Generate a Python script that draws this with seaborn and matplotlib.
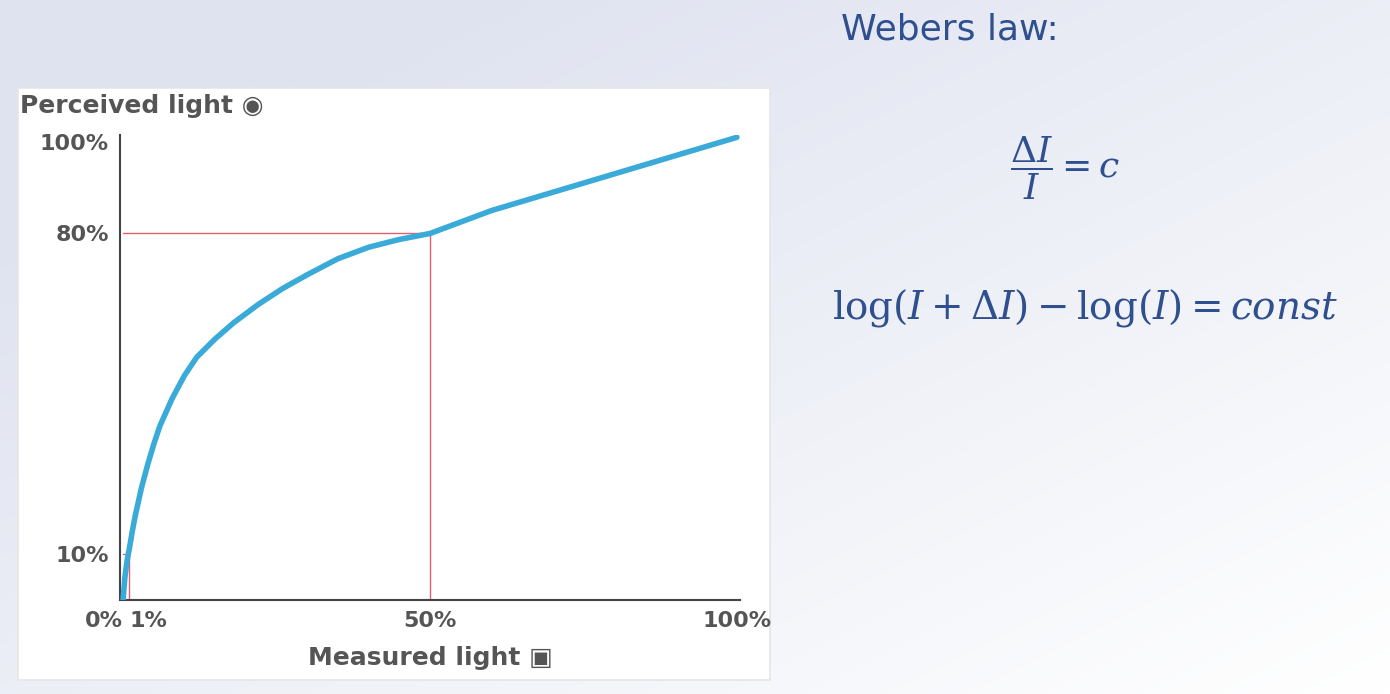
import numpy as np
import pandas as pd
import matplotlib
matplotlib.use("Agg")
import matplotlib.pyplot as plt
import seaborn as sns

measured = [0, 0.3, 0.7, 1, 1.5, 2, 3, 4, 5, 6, 8, 10, 12, 15, 18, 22, 26, 30, 35, 40, 45, 50,
            55, 60, 65, 70, 75, 80, 85, 90, 95, 100]
perceived = [0, 5, 9, 11, 15, 18.5, 24.5, 29.5, 34, 38, 44, 49, 53, 57, 60.5, 64.5, 68, 71, 74.5, 77, 78.7, 80,
             82.5, 85, 87, 89, 91, 93, 95, 97, 99, 101]
xticks = [0, 1, 50, 100]
xtick_labels = ["0%", "1%", "50%", "100%"]
yticks = [10, 80, 100]
ytick_labels = ["10%", "80%", "100%"]

sns.set_theme(style="white")
plt.rcParams["mathtext.fontset"] = "dejavuserif"
fig = plt.figure(figsize=(13.9, 6.94), dpi=100)
bg = fig.add_axes([0, 0, 1, 1], zorder=-10)
yy, xx = np.mgrid[0:1:256j, 0:1:256j]
grad = np.clip((1 - xx) * 0.6 + yy * 0.6, 0, 1)
bg.imshow(grad, cmap=matplotlib.colors.LinearSegmentedColormap.from_list("b", ["#ffffff", "#dfe3f0"]),
          aspect="auto", extent=[0, 1, 0, 1], vmin=0, vmax=1, origin="lower")
bg.axis("off")
panel = fig.add_axes([18/1390, 1-680/694, (770-18)/1390, (680-88)/694], zorder=-5)
panel.set_facecolor("white"); panel.set_xticks([]); panel.set_yticks([])
for s in panel.spines.values():
    s.set_color("#e6e6e6")

ax = fig.add_axes([120/1390, 1-600/694, (740-120)/1390, (600-135)/694])
ax.patch.set_alpha(0)
df = pd.DataFrame({"m": measured, "p": perceived})
sns.lineplot(data=df, x="m", y="p", ax=ax, color="#3aaad9", linewidth=4, solid_capstyle="round", zorder=3)
ax.plot([50, 50], [0, 80], color="#e06070", lw=1)
ax.plot([0, 50], [80, 80], color="#e06070", lw=1)
ax.plot([1, 1], [0, 10], color="#e06070", lw=1)
ax.plot([0, 1], [10, 10], color="#e06070", lw=1)
ax.set_xlim(-0.5, 100.5)
ax.set_ylim(0, 101.5)
ax.set_xticks(xticks); ax.set_xticklabels(xtick_labels)
ax.set_yticks(yticks); ax.set_yticklabels(ytick_labels)
ax.tick_params(labelsize=16, colors="#555555", length=0, pad=8)
for t in ax.get_xticklabels() + ax.get_yticklabels():
    t.set_fontweight("bold")
ax.get_xticklabels()[0].set_horizontalalignment("right")
ax.get_xticklabels()[1].set_horizontalalignment("left")
for s in ["top", "right"]:
    ax.spines[s].set_visible(False)
for s in ["left", "bottom"]:
    ax.spines[s].set_color("#444444"); ax.spines[s].set_linewidth(1.5)
ax.set_xlabel(""); ax.set_ylabel("")
fig.text(20/1390, 1-106/694, "Perceived light \u25C9", fontsize=18, fontweight="bold", color="#555555", va="center")
fig.text(430/1390, 1-658/694, "Measured light \u25A3", fontsize=18, fontweight="bold", color="#555555", va="center", ha="center")

blue = "#2f4f8f"
fig.text(950/1390, 1-30/694, "Webers law:", fontsize=26, color=blue, va="center", ha="center")
fig.text(1065/1390, 1-168/694, r"$\dfrac{\Delta I}{I} = c$", fontsize=26, color=blue, va="center", ha="center")
fig.text(1085/1390, 1-308/694, r"$\log(I + \Delta I) - \log(I) = const$", fontsize=28, color=blue, va="center", ha="center")
fig.savefig("out.png", dpi=100)
